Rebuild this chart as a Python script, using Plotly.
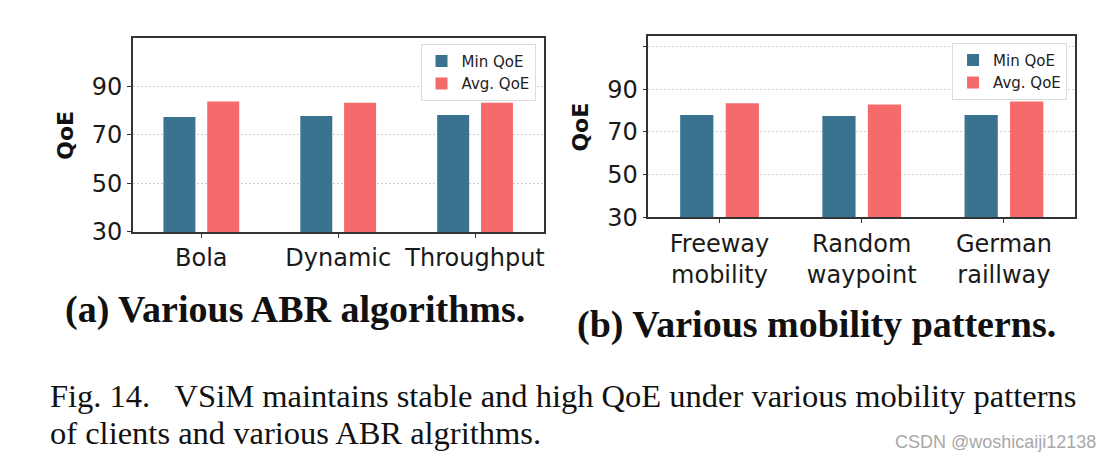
import plotly.graph_objects as go

# ---- data ----
abr_categories = ["Bola", "Dynamic", "Throughput"]
abr_min_qoe = [77.4, 77.8, 78.2]
abr_avg_qoe = [83.8, 83.2, 83.2]

mob_categories = ["Freeway<br>mobility", "Random<br>waypoint", "German<br>raillway"]
mob_min_qoe = [77.9, 77.5, 77.9]
mob_avg_qoe = [83.4, 82.9, 84.3]

series_names = ["Min QoE", "Avg. QoE"]
left_yticks = [30, 50, 70, 90]
right_yticks = [30, 50, 70, 90, 110]
right_yticktext = ["30", "50", "70", "90", ""]

C_MIN = "#3A738F"
C_AVG = "#F56A6B"
W, H = 1113, 473

fig = go.Figure()
fig.add_trace(go.Bar(x=abr_categories, y=abr_min_qoe, name=series_names[0],
                     marker=dict(color=C_MIN, line=dict(width=0)),
                     xaxis="x", yaxis="y", legend="legend"))
fig.add_trace(go.Bar(x=abr_categories, y=abr_avg_qoe, name=series_names[1],
                     marker=dict(color=C_AVG, line=dict(width=0)),
                     xaxis="x", yaxis="y", legend="legend"))
fig.add_trace(go.Bar(x=mob_categories, y=mob_min_qoe, name=series_names[0],
                     marker=dict(color=C_MIN, line=dict(width=0)),
                     xaxis="x2", yaxis="y2", legend="legend2"))
fig.add_trace(go.Bar(x=mob_categories, y=mob_avg_qoe, name=series_names[1],
                     marker=dict(color=C_AVG, line=dict(width=0)),
                     xaxis="x2", yaxis="y2", legend="legend2"))

tickfont = dict(family="DejaVu Sans", size=24, color="#1a1a1a")
axis_common = dict(showline=True, mirror=True, linecolor="#333333", linewidth=1.5,
                   ticks="outside", ticklen=4, tickcolor="#333333", tickfont=tickfont)
grid_common = dict(showgrid=True, gridcolor="#cfcfcf", gridwidth=1, griddash="2px,2px",
                   zeroline=False)

def px_x(a, b):
    return [a / W, b / W]

def px_y(top, bottom):
    return [1 - bottom / H, 1 - top / H]

legend_common = dict(font=dict(family="DejaVu Sans", size=15, color="#222222"),
                     bgcolor="rgba(255,255,255,0.9)", bordercolor="#dddddd", borderwidth=1,
                     xanchor="right", yanchor="top", tracegroupgap=4)

fig.update_layout(
    width=W, height=H,
    margin=dict(l=0, r=0, t=0, b=0),
    paper_bgcolor="white", plot_bgcolor="white",
    barmode="group", bargap=0.36, bargroupgap=0.27,
    xaxis=dict(domain=px_x(133, 544), anchor="y", showgrid=False, **axis_common),
    yaxis=dict(domain=px_y(39, 239), anchor="x", range=[30, 110],
               tickvals=left_yticks, **grid_common, **axis_common),
    xaxis2=dict(domain=px_x(649, 1076), anchor="y2", showgrid=False, **axis_common),
    yaxis2=dict(domain=px_y(37, 224), anchor="x2", range=[30, 115],
                tickvals=right_yticks, ticktext=right_yticktext, **grid_common, **axis_common),
    legend=dict(x=536 / W, y=1 - 45 / H, **legend_common),
    legend2=dict(x=1068 / W, y=1 - 44 / H, **legend_common),
)

annotations = [
    dict(text="<b>QoE</b>", x=66 / W, y=1 - 139 / H, textangle=-90,
         font=dict(family="DejaVu Sans", size=22, color="#111111")),
    dict(text="<b>QoE</b>", x=581 / W, y=1 - 131 / H, textangle=-90,
         font=dict(family="DejaVu Sans", size=22, color="#111111")),
    dict(text="<b>(a) Various ABR algorithms.</b>", x=295 / W, y=1 - 319 / H,
         font=dict(family="Liberation Serif", size=38, color="#111111")),
    dict(text="<b>(b) Various mobility patterns.</b>", x=817 / W, y=1 - 334 / H,
         font=dict(family="Liberation Serif", size=38, color="#111111")),
    dict(text="Fig. 14.\u00a0\u00a0\u00a0VSiM maintains stable and high QoE under various mobility patterns",
         x=48 / W, y=1 - 408 / H, xanchor="left",
         font=dict(family="Liberation Serif", size=32.5, color="#111111")),
    dict(text="of clients and various ABR algrithms.",
         x=48 / W, y=1 - 446 / H, xanchor="left",
         font=dict(family="Liberation Serif", size=32.5, color="#111111")),
    dict(text="CSDN @woshicaiji12138", x=1099 / W, y=1 - 455 / H, xanchor="right",
         font=dict(family="Liberation Sans", size=18, color="#a8a8a8")),
]
for a in annotations:
    a.update(xref="paper", yref="paper", showarrow=False, yanchor="middle")
    a.setdefault("xanchor", "center")
fig.update_layout(annotations=annotations)

fig.write_html("out.html", config={"displayModeBar": False},
               post_script="document.body.style.margin='0';document.body.style.overflow='hidden';")
